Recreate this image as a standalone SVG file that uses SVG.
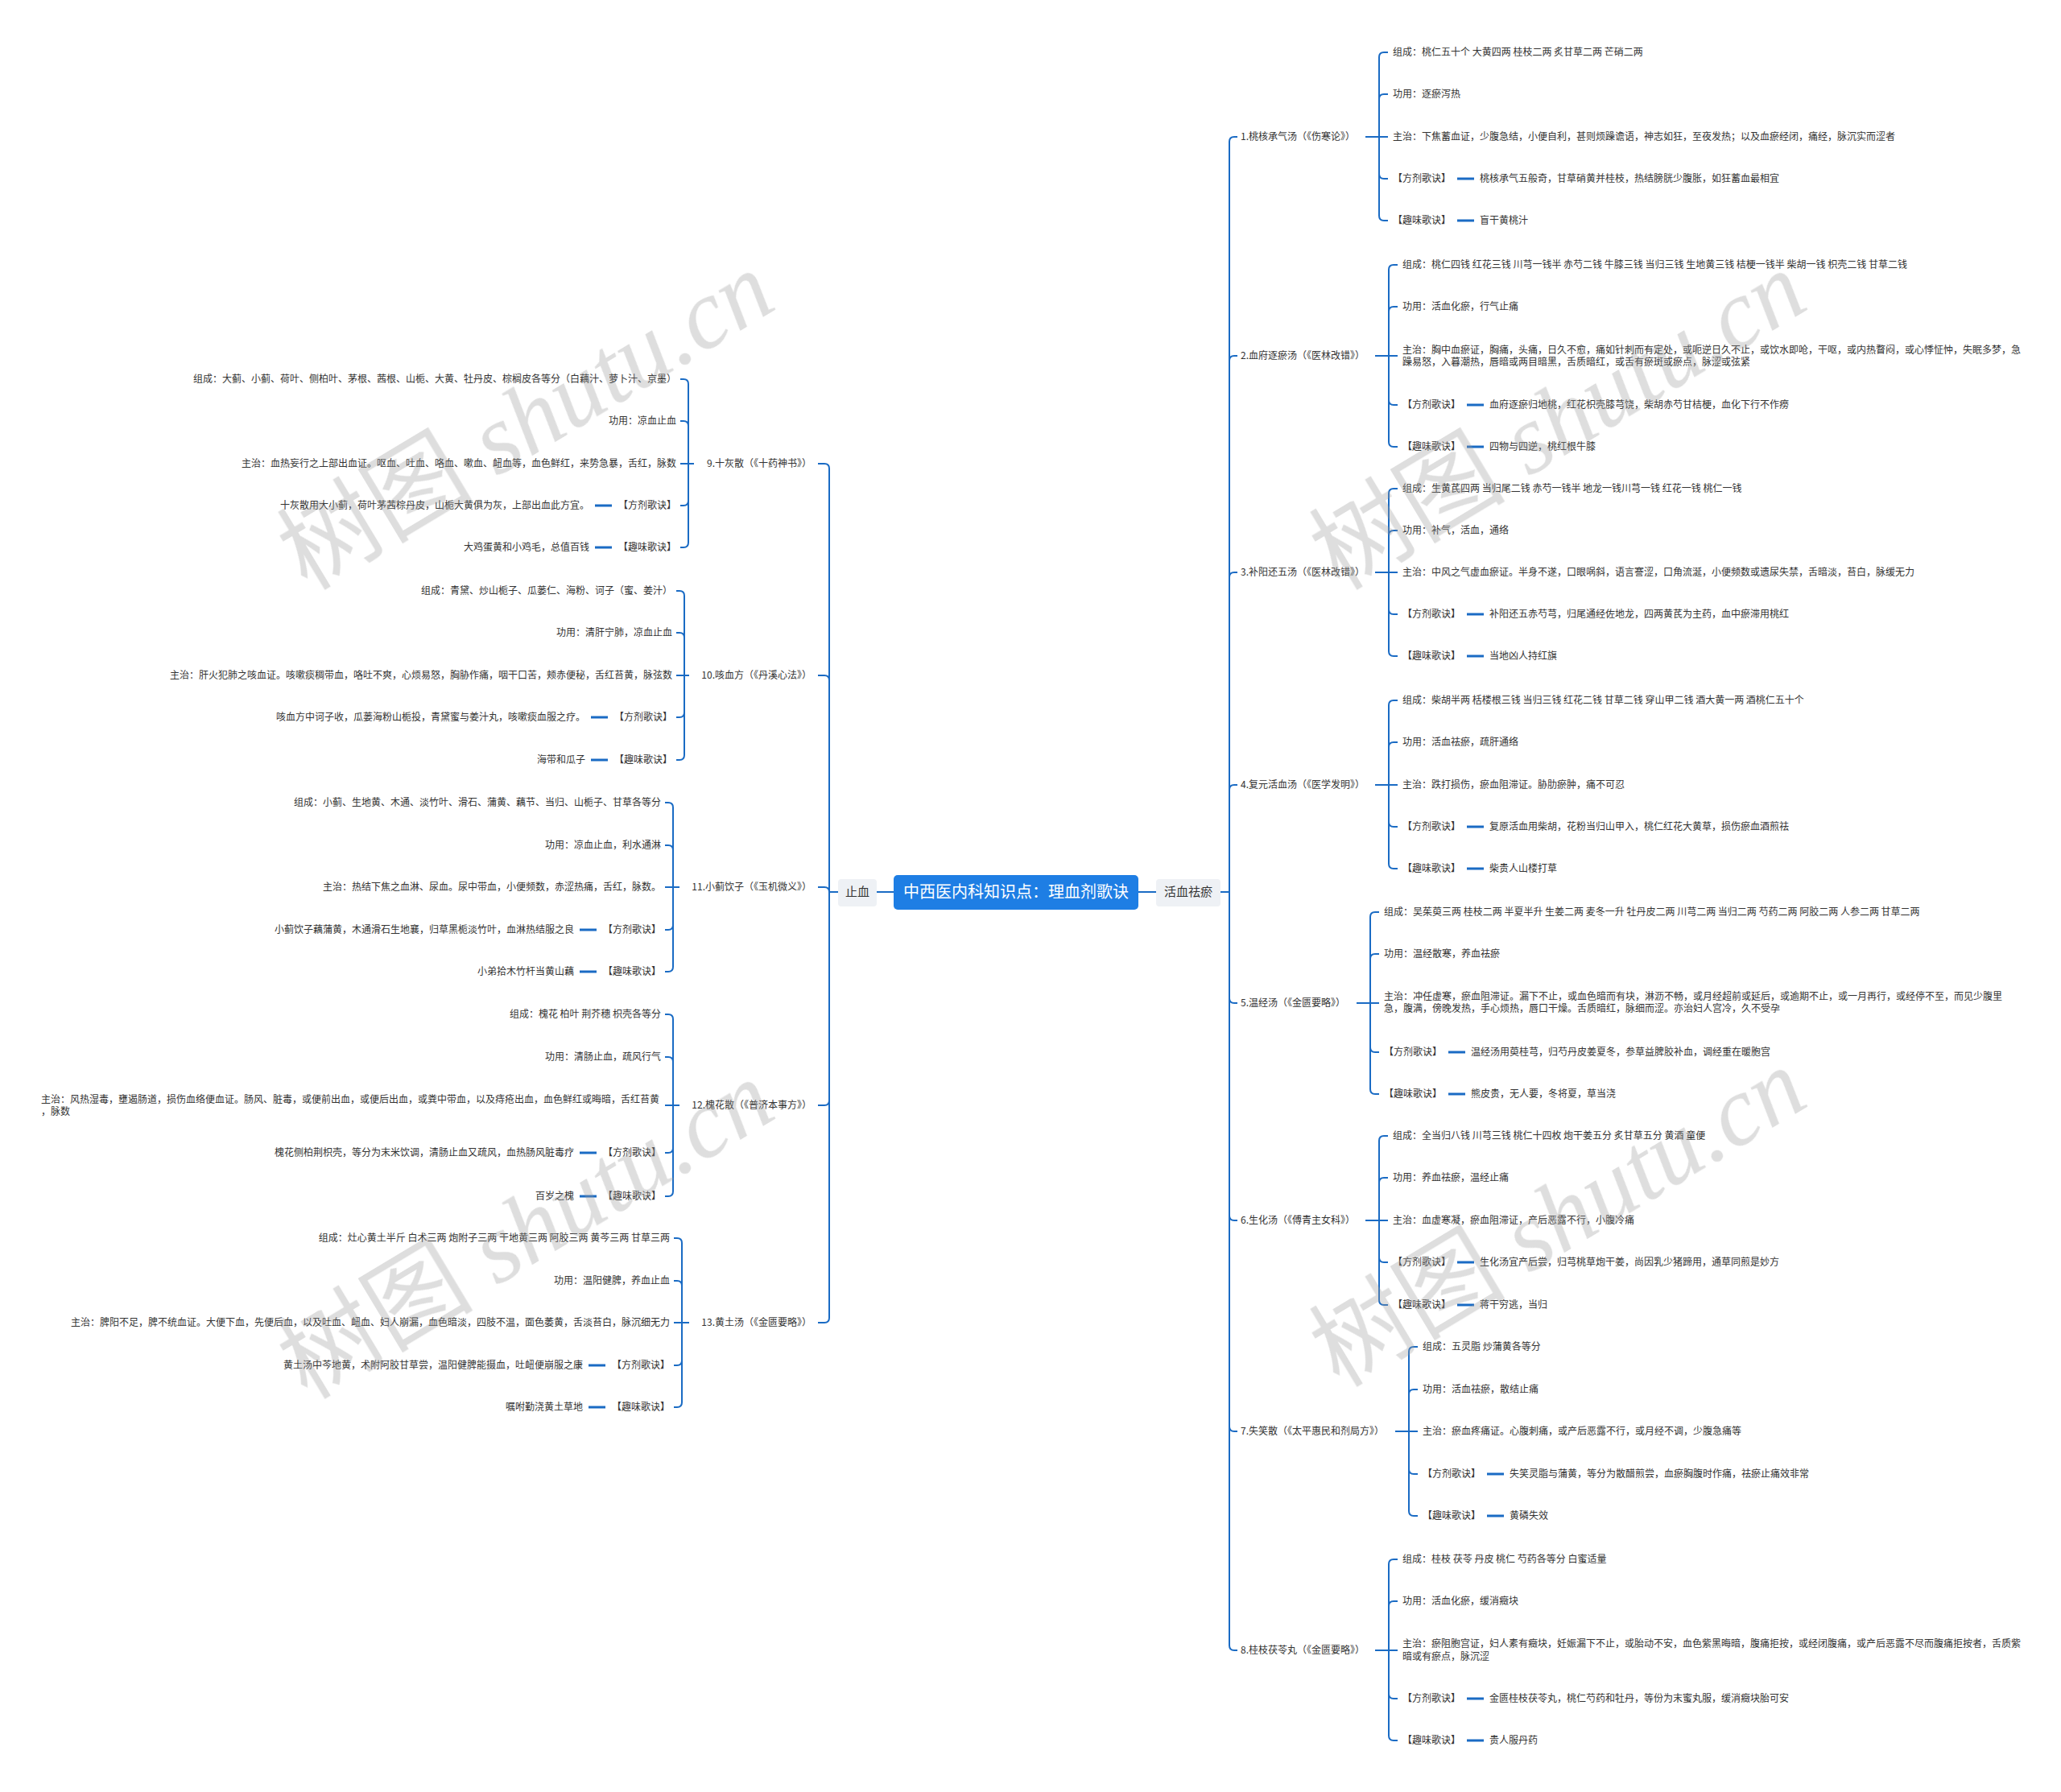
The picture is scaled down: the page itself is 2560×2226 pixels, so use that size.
<svg xmlns="http://www.w3.org/2000/svg" width="2560" height="2226" viewBox="0 0 2560 2226">
<style>
.t{font-family:"Noto Sans CJK SC","Microsoft YaHei",sans-serif;font-size:12px;fill:#333}
.e{text-anchor:end}
.c{stroke:#1a6bc4;stroke-width:2;fill:none}
.d{stroke:#1a6bc4;stroke-width:3}
.b{fill:#eef1f5}
.wm{font-family:"Liberation Serif","Noto Sans CJK SC",serif;font-size:122px;fill:#9a9a9a;opacity:.33;text-anchor:middle}
</style>
<rect width="2560" height="2226" fill="#fff"/>

<g id="connectors">
<path class="c" d="M1089,1108H1110M1414,1108H1436"/>
<!-- right trunk -->
<path class="c" d="M1516,1108H1527M1527,1108V176Q1527,170 1533,170H1537M1527,1108V448Q1527,442 1533,442H1537M1527,1108V717Q1527,711 1533,711H1537M1527,1108V981Q1527,975 1533,975H1537M1527,1108V1240Q1527,1246 1533,1246H1537M1527,1108V1510Q1527,1516 1533,1516H1537M1527,1108V1772Q1527,1778 1533,1778H1537M1527,1108V2044Q1527,2050 1533,2050H1537"/>
<!-- left trunk -->
<path class="c" d="M1041,1108H1030M1030,1108V582Q1030,576 1024,576H1016M1030,1108V845Q1030,839 1024,839H1016M1030,1108V1108Q1030,1102 1024,1102H1016M1030,1108V1367Q1030,1373 1024,1373H1016M1030,1108V1637Q1030,1643 1024,1643H1016"/>
<!-- S1 -->
<path class="c" d="M1696,170H1713M1713,170V71Q1713,65 1719,65H1724M1713,170V123Q1713,117 1719,117H1724M1713,170H1724M1713,170V216Q1713,222 1719,222H1724M1713,170V268Q1713,274 1719,274H1724"/>
<path class="d" d="M1810,222H1831M1810,274H1831"/>
<!-- S2 -->
<path class="c" d="M1708,442H1725M1725,442V335Q1725,329 1731,329H1736M1725,442V387Q1725,381 1731,381H1736M1725,442H1736M1725,442V497Q1725,503 1731,503H1736M1725,442V549Q1725,555 1731,555H1736"/>
<path class="d" d="M1822,503H1843M1822,555H1843"/>
<!-- S3 -->
<path class="c" d="M1708,711H1725M1725,711V613Q1725,607 1731,607H1736M1725,711V665Q1725,659 1731,659H1736M1725,711H1736M1725,711V757Q1725,763 1731,763H1736M1725,711V809Q1725,815 1731,815H1736"/>
<path class="d" d="M1822,763H1843M1822,815H1843"/>
<!-- S4 -->
<path class="c" d="M1708,975H1725M1725,975V876Q1725,870 1731,870H1736M1725,975V928Q1725,922 1731,922H1736M1725,975H1736M1725,975V1021Q1725,1027 1731,1027H1736M1725,975V1073Q1725,1079 1731,1079H1736"/>
<path class="d" d="M1822,1027H1843M1822,1079H1843"/>
<!-- S5 -->
<path class="c" d="M1685,1246H1702M1702,1246V1139Q1702,1133 1708,1133H1713M1702,1246V1191Q1702,1185 1708,1185H1713M1702,1246H1713M1702,1246V1301Q1702,1307 1708,1307H1713M1702,1246V1353Q1702,1359 1708,1359H1713"/>
<path class="d" d="M1799,1307H1820M1799,1359H1820"/>
<!-- S6 -->
<path class="c" d="M1696,1516H1713M1713,1516V1417Q1713,1411 1719,1411H1724M1713,1516V1469Q1713,1463 1719,1463H1724M1713,1516H1724M1713,1516V1562Q1713,1568 1719,1568H1724M1713,1516V1615Q1713,1621 1719,1621H1724"/>
<path class="d" d="M1810,1568H1831M1810,1621H1831"/>
<!-- S7 -->
<path class="c" d="M1733,1778H1750M1750,1778V1679Q1750,1673 1756,1673H1761M1750,1778V1732Q1750,1726 1756,1726H1761M1750,1778H1761M1750,1778V1825Q1750,1831 1756,1831H1761M1750,1778V1877Q1750,1883 1756,1883H1761"/>
<path class="d" d="M1847,1831H1868M1847,1883H1868"/>
<!-- S8 -->
<path class="c" d="M1708,2050H1725M1725,2050V1943Q1725,1937 1731,1937H1736M1725,2050V1995Q1725,1989 1731,1989H1736M1725,2050H1736M1725,2050V2104Q1725,2110 1731,2110H1736M1725,2050V2156Q1725,2162 1731,2162H1736"/>
<path class="d" d="M1822,2110H1843M1822,2162H1843"/>
<!-- S9 -->
<path class="c" d="M862,576H855M855,576V477Q855,471 849,471H845M855,576V529Q855,523 849,523H845M855,576H845M855,576V622Q855,628 849,628H845M855,576V674Q855,680 849,680H845"/>
<path class="d" d="M739,628H760M739,680H760"/>
<!-- S10 -->
<path class="c" d="M856,839H850M850,839V740Q850,734 844,734H840M850,839V792Q850,786 844,786H840M850,839H840M850,839V885Q850,891 844,891H840M850,839V938Q850,944 844,944H840"/>
<path class="d" d="M734,891H755M734,944H755"/>
<!-- S11 -->
<path class="c" d="M844,1102H836M836,1102V1003Q836,997 830,997H826M836,1102V1056Q836,1050 830,1050H826M836,1102H826M836,1102V1149Q836,1155 830,1155H826M836,1102V1201Q836,1207 830,1207H826"/>
<path class="d" d="M720,1155H741M720,1207H741"/>
<!-- S12 -->
<path class="c" d="M844,1373H836M836,1373V1266Q836,1260 830,1260H826M836,1373V1319Q836,1313 830,1313H826M836,1373H826M836,1373V1426Q836,1432 830,1432H826M836,1373V1480Q836,1486 830,1486H826"/>
<path class="d" d="M720,1432H741M720,1486H741"/>
<!-- S13 -->
<path class="c" d="M856,1643H847M847,1643V1544Q847,1538 841,1538H837M847,1643V1597Q847,1591 841,1591H837M847,1643H837M847,1643V1690Q847,1696 841,1696H837M847,1643V1742Q847,1748 841,1748H837"/>
<path class="d" d="M731,1696H752M731,1748H752"/>
</g>

<g id="root">
<rect x="1110" y="1087" width="304" height="43" rx="5" fill="#1e7ee4"/>
<text x="1262" y="1115" text-anchor="middle" style="font-family:'Noto Sans CJK SC','Microsoft YaHei',sans-serif;font-size:20px;fill:#fff">中西医内科知识点：理血剂歌诀</text>
</g>
<g id="zhixue">
<rect class="b" x="1041" y="1092" width="48" height="34" rx="4"/>
<text class="t" x="1065" y="1113" text-anchor="middle" style="font-size:15px">止血</text>
</g>
<g id="huoxue">
<rect class="b" x="1436" y="1092" width="80" height="34" rx="4"/>
<text class="t" x="1476" y="1113" text-anchor="middle" style="font-size:15px">活血祛瘀</text>
</g>

<!-- RIGHT -->
<g id="s1">
<g id="s1-label"><text class="t" x="1541" y="174">1.桃核承气汤（《伤寒论》）</text></g>
<g id="s1-zc"><text class="t" x="1730" y="69">组成：桃仁五十个 大黄四两 桂枝二两 炙甘草二两 芒硝二两</text></g>
<g id="s1-gy"><text class="t" x="1730" y="121">功用：逐瘀泻热</text></g>
<g id="s1-zz"><text class="t" x="1730" y="174">主治：下焦蓄血证，少腹急结，小便自利，甚则烦躁谵语，神志如狂，至夜发热；以及血瘀经闭，痛经，脉沉实而涩者</text></g>
<g id="s1-fj"><text class="t" x="1730" y="226">【方剂歌诀】</text></g>
<g id="s1-fjv"><text class="t" x="1838" y="226">桃核承气五般奇，甘草硝黄并桂枝，热结膀胱少腹胀，如狂蓄血最相宜</text></g>
<g id="s1-qw"><text class="t" x="1730" y="278">【趣味歌诀】</text></g>
<g id="s1-qwv"><text class="t" x="1838" y="278">盲干黄桃汁</text></g>
</g>

<g id="s2">
<g id="s2-label"><text class="t" x="1541" y="446">2.血府逐瘀汤（《医林改错》）</text></g>
<g id="s2-zc"><text class="t" x="1742" y="333">组成：桃仁四钱 红花三钱 川芎一钱半 赤芍二钱 牛膝三钱 当归三钱 生地黄三钱 桔梗一钱半 柴胡一钱 枳壳二钱 甘草二钱</text></g>
<g id="s2-gy"><text class="t" x="1742" y="385">功用：活血化瘀，行气止痛</text></g>
<g id="s2-zz"><text class="t" x="1742" y="439">主治：胸中血瘀证，胸痛，头痛，日久不愈，痛如针刺而有定处，或呃逆日久不止，或饮水即呛，干呕，或内热瞀闷，或心悸怔忡，失眠多梦，急<tspan x="1742" y="454">躁易怒，入暮潮热，唇暗或两目暗黑，舌质暗红，或舌有瘀斑或瘀点，脉涩或弦紧</tspan></text></g>
<g id="s2-fj"><text class="t" x="1742" y="507">【方剂歌诀】</text></g>
<g id="s2-fjv"><text class="t" x="1850" y="507">血府逐瘀归地桃，红花枳壳膝芎饶，柴胡赤芍甘桔梗，血化下行不作痨</text></g>
<g id="s2-qw"><text class="t" x="1742" y="559">【趣味歌诀】</text></g>
<g id="s2-qwv"><text class="t" x="1850" y="559">四物与四逆，桃红根牛膝</text></g>
</g>

<g id="s3">
<g id="s3-label"><text class="t" x="1541" y="715">3.补阳还五汤（《医林改错》）</text></g>
<g id="s3-zc"><text class="t" x="1742" y="611">组成：生黄芪四两 当归尾二钱 赤芍一钱半 地龙一钱川芎一钱 红花一钱 桃仁一钱</text></g>
<g id="s3-gy"><text class="t" x="1742" y="663">功用：补气，活血，通络</text></g>
<g id="s3-zz"><text class="t" x="1742" y="715">主治：中风之气虚血瘀证。半身不遂，口眼㖞斜，语言謇涩，口角流涎，小便频数或遗尿失禁，舌暗淡，苔白，脉缓无力</text></g>
<g id="s3-fj"><text class="t" x="1742" y="767">【方剂歌诀】</text></g>
<g id="s3-fjv"><text class="t" x="1850" y="767">补阳还五赤芍芎，归尾通经佐地龙，四两黄芪为主药，血中瘀滞用桃红</text></g>
<g id="s3-qw"><text class="t" x="1742" y="819">【趣味歌诀】</text></g>
<g id="s3-qwv"><text class="t" x="1850" y="819">当地凶人持红旗</text></g>
</g>

<g id="s4">
<g id="s4-label"><text class="t" x="1541" y="979">4.复元活血汤（《医学发明》）</text></g>
<g id="s4-zc"><text class="t" x="1742" y="874">组成：柴胡半两 栝楼根三钱 当归三钱 红花二钱 甘草二钱 穿山甲二钱 酒大黄一两 酒桃仁五十个</text></g>
<g id="s4-gy"><text class="t" x="1742" y="926">功用：活血祛瘀，疏肝通络</text></g>
<g id="s4-zz"><text class="t" x="1742" y="979">主治：跌打损伤，瘀血阻滞证。胁肋瘀肿，痛不可忍</text></g>
<g id="s4-fj"><text class="t" x="1742" y="1031">【方剂歌诀】</text></g>
<g id="s4-fjv"><text class="t" x="1850" y="1031">复原活血用柴胡，花粉当归山甲入，桃仁红花大黄草，损伤瘀血酒煎祛</text></g>
<g id="s4-qw"><text class="t" x="1742" y="1083">【趣味歌诀】</text></g>
<g id="s4-qwv"><text class="t" x="1850" y="1083">柴贵人山楼打草</text></g>
</g>

<g id="s5">
<g id="s5-label"><text class="t" x="1541" y="1250">5.温经汤（《金匮要略》）</text></g>
<g id="s5-zc"><text class="t" x="1719" y="1137">组成：吴茱萸三两 桂枝二两 半夏半升 生姜二两 麦冬一升 牡丹皮二两 川芎二两 当归二两 芍药二两 阿胶二两 人参二两 甘草二两</text></g>
<g id="s5-gy"><text class="t" x="1719" y="1189">功用：温经散寒，养血祛瘀</text></g>
<g id="s5-zz"><text class="t" x="1719" y="1242">主治：冲任虚寒，瘀血阻滞证。漏下不止，或血色暗而有块，淋沥不畅，或月经超前或延后，或逾期不止，或一月再行，或经停不至，而见少腹里<tspan x="1719" y="1257">急，腹满，傍晚发热，手心烦热，唇口干燥。舌质暗红，脉细而涩。亦治妇人宫冷，久不受孕</tspan></text></g>
<g id="s5-fj"><text class="t" x="1719" y="1311">【方剂歌诀】</text></g>
<g id="s5-fjv"><text class="t" x="1827" y="1311">温经汤用萸桂芎，归芍丹皮姜夏冬，参草益脾胶补血，调经重在暖胞宫</text></g>
<g id="s5-qw"><text class="t" x="1719" y="1363">【趣味歌诀】</text></g>
<g id="s5-qwv"><text class="t" x="1827" y="1363">熊皮贵，无人要，冬将夏，草当浇</text></g>
</g>

<g id="s6">
<g id="s6-label"><text class="t" x="1541" y="1520">6.生化汤（《傅青主女科》）</text></g>
<g id="s6-zc"><text class="t" x="1730" y="1415">组成：全当归八钱 川芎三钱 桃仁十四枚 炮干姜五分 炙甘草五分 黄酒 童便</text></g>
<g id="s6-gy"><text class="t" x="1730" y="1467">功用：养血祛瘀，温经止痛</text></g>
<g id="s6-zz"><text class="t" x="1730" y="1520">主治：血虚寒凝，瘀血阻滞证，产后恶露不行，小腹冷痛</text></g>
<g id="s6-fj"><text class="t" x="1730" y="1572">【方剂歌诀】</text></g>
<g id="s6-fjv"><text class="t" x="1838" y="1572">生化汤宜产后尝，归芎桃草炮干姜，尚因乳少猪蹄用，通草同煎是妙方</text></g>
<g id="s6-qw"><text class="t" x="1730" y="1625">【趣味歌诀】</text></g>
<g id="s6-qwv"><text class="t" x="1838" y="1625">蒋干穷逃，当归</text></g>
</g>

<g id="s7">
<g id="s7-label"><text class="t" x="1541" y="1782">7.失笑散（《太平惠民和剂局方》）</text></g>
<g id="s7-zc"><text class="t" x="1767" y="1677">组成：五灵脂 炒蒲黄各等分</text></g>
<g id="s7-gy"><text class="t" x="1767" y="1730">功用：活血祛瘀，散结止痛</text></g>
<g id="s7-zz"><text class="t" x="1767" y="1782">主治：瘀血疼痛证。心腹刺痛，或产后恶露不行，或月经不调，少腹急痛等</text></g>
<g id="s7-fj"><text class="t" x="1767" y="1835">【方剂歌诀】</text></g>
<g id="s7-fjv"><text class="t" x="1875" y="1835">失笑灵脂与蒲黄，等分为散醋煎尝，血瘀胸腹时作痛，祛瘀止痛效非常</text></g>
<g id="s7-qw"><text class="t" x="1767" y="1887">【趣味歌诀】</text></g>
<g id="s7-qwv"><text class="t" x="1875" y="1887">黄磷失效</text></g>
</g>

<g id="s8">
<g id="s8-label"><text class="t" x="1541" y="2054">8.桂枝茯苓丸（《金匮要略》）</text></g>
<g id="s8-zc"><text class="t" x="1742" y="1941">组成：桂枝 茯苓 丹皮 桃仁 芍药各等分 白蜜适量</text></g>
<g id="s8-gy"><text class="t" x="1742" y="1993">功用：活血化瘀，缓消癥块</text></g>
<g id="s8-zz"><text class="t" x="1742" y="2046">主治：瘀阻胞宫证，妇人素有癥块，妊娠漏下不止，或胎动不安，血色紫黑晦暗，腹痛拒按，或经闭腹痛，或产后恶露不尽而腹痛拒按者，舌质紫<tspan x="1742" y="2062">暗或有瘀点，脉沉涩</tspan></text></g>
<g id="s8-fj"><text class="t" x="1742" y="2114">【方剂歌诀】</text></g>
<g id="s8-fjv"><text class="t" x="1850" y="2114">金匮桂枝茯苓丸，桃仁芍药和牡丹，等份为末蜜丸服，缓消癥块胎可安</text></g>
<g id="s8-qw"><text class="t" x="1742" y="2166">【趣味歌诀】</text></g>
<g id="s8-qwv"><text class="t" x="1850" y="2166">贵人服丹药</text></g>
</g>

<!-- LEFT -->
<g id="s9">
<g id="s9-label"><text class="t e" x="1008" y="580">9.十灰散（《十药神书》）</text></g>
<g id="s9-zc"><text class="t e" x="840" y="475">组成：大蓟、小蓟、荷叶、侧柏叶、茅根、茜根、山栀、大黄、牡丹皮、棕榈皮各等分（白藕汁、萝卜汁、京墨）</text></g>
<g id="s9-gy"><text class="t e" x="840" y="527">功用：凉血止血</text></g>
<g id="s9-zz"><text class="t e" x="840" y="580">主治：血热妄行之上部出血证。呕血、吐血、咯血、嗽血、衄血等，血色鲜红，来势急暴，舌红，脉数</text></g>
<g id="s9-fj"><text class="t e" x="840" y="632">【方剂歌诀】</text></g>
<g id="s9-fjv"><text class="t e" x="732" y="632">十灰散用大小蓟，荷叶茅茜棕丹皮，山栀大黄俱为灰，上部出血此方宜。</text></g>
<g id="s9-qw"><text class="t e" x="840" y="684">【趣味歌诀】</text></g>
<g id="s9-qwv"><text class="t e" x="732" y="684">大鸡蛋黄和小鸡毛，总值百钱</text></g>
</g>

<g id="s10">
<g id="s10-label"><text class="t e" x="1008" y="843">10.咳血方（《丹溪心法》）</text></g>
<g id="s10-zc"><text class="t e" x="835" y="738">组成：青黛、炒山栀子、瓜蒌仁、海粉、诃子（蜜、姜汁）</text></g>
<g id="s10-gy"><text class="t e" x="835" y="790">功用：清肝宁肺，凉血止血</text></g>
<g id="s10-zz"><text class="t e" x="835" y="843">主治：肝火犯肺之咳血证。咳嗽痰稠带血，咯吐不爽，心烦易怒，胸胁作痛，咽干口苦，颊赤便秘，舌红苔黄，脉弦数</text></g>
<g id="s10-fj"><text class="t e" x="835" y="895">【方剂歌诀】</text></g>
<g id="s10-fjv"><text class="t e" x="727" y="895">咳血方中诃子收，瓜蒌海粉山栀投，青黛蜜与姜汁丸，咳嗽痰血服之疗。</text></g>
<g id="s10-qw"><text class="t e" x="835" y="948">【趣味歌诀】</text></g>
<g id="s10-qwv"><text class="t e" x="727" y="948">海带和瓜子</text></g>
</g>

<g id="s11">
<g id="s11-label"><text class="t e" x="1008" y="1106">11.小蓟饮子（《玉机微义》）</text></g>
<g id="s11-zc"><text class="t e" x="821" y="1001">组成：小蓟、生地黄、木通、淡竹叶、滑石、蒲黄、藕节、当归、山栀子、甘草各等分</text></g>
<g id="s11-gy"><text class="t e" x="821" y="1054">功用：凉血止血，利水通淋</text></g>
<g id="s11-zz"><text class="t e" x="821" y="1106">主治：热结下焦之血淋、尿血。尿中带血，小便频数，赤涩热痛，舌红，脉数。</text></g>
<g id="s11-fj"><text class="t e" x="821" y="1159">【方剂歌诀】</text></g>
<g id="s11-fjv"><text class="t e" x="713" y="1159">小蓟饮子藕蒲黄，木通滑石生地襄，归草黑栀淡竹叶，血淋热结服之良</text></g>
<g id="s11-qw"><text class="t e" x="821" y="1211">【趣味歌诀】</text></g>
<g id="s11-qwv"><text class="t e" x="713" y="1211">小弟拾木竹杆当黄山藕</text></g>
</g>

<g id="s12">
<g id="s12-label"><text class="t e" x="1008" y="1377">12.槐花散（《普济本事方》）</text></g>
<g id="s12-zc"><text class="t e" x="821" y="1264">组成：槐花 柏叶 荆芥穗 枳壳各等分</text></g>
<g id="s12-gy"><text class="t e" x="821" y="1317">功用：清肠止血，疏风行气</text></g>
<g id="s12-zz"><text class="t" x="51" y="1370">主治：风热湿毒，壅遏肠道，损伤血络便血证。肠风、脏毒，或便前出血，或便后出血，或粪中带血，以及痔疮出血，血色鲜红或晦暗，舌红苔黄<tspan x="51" y="1385">，脉数</tspan></text></g>
<g id="s12-fj"><text class="t e" x="821" y="1436">【方剂歌诀】</text></g>
<g id="s12-fjv"><text class="t e" x="713" y="1436">槐花侧柏荆枳壳，等分为末米饮调，清肠止血又疏风，血热肠风脏毒疗</text></g>
<g id="s12-qw"><text class="t e" x="821" y="1490">【趣味歌诀】</text></g>
<g id="s12-qwv"><text class="t e" x="713" y="1490">百岁之槐</text></g>
</g>

<g id="s13">
<g id="s13-label"><text class="t e" x="1008" y="1647">13.黄土汤（《金匮要略》）</text></g>
<g id="s13-zc"><text class="t e" x="832" y="1542">组成：灶心黄土半斤 白术三两 炮附子三两 干地黄三两 阿胶三两 黄芩三两 甘草三两</text></g>
<g id="s13-gy"><text class="t e" x="832" y="1595">功用：温阳健脾，养血止血</text></g>
<g id="s13-zz"><text class="t e" x="832" y="1647">主治：脾阳不足，脾不统血证。大便下血，先便后血，以及吐血、衄血、妇人崩漏，血色暗淡，四肢不温，面色萎黄，舌淡苔白，脉沉细无力</text></g>
<g id="s13-fj"><text class="t e" x="832" y="1700">【方剂歌诀】</text></g>
<g id="s13-fjv"><text class="t e" x="724" y="1700">黄土汤中芩地黄，术附阿胶甘草尝，温阳健脾能摄血，吐衄便崩服之康</text></g>
<g id="s13-qw"><text class="t e" x="832" y="1752">【趣味歌诀】</text></g>
<g id="s13-qwv"><text class="t e" x="724" y="1752">嘱咐勤浇黄土草地</text></g>
</g>

<g id="watermarks" class="wm">
<text transform="translate(653,522) rotate(-31)" y="42">树图 <tspan font-style="italic">shutu.cn</tspan></text>
<text transform="translate(1935,522) rotate(-31)" y="42">树图 <tspan font-style="italic">shutu.cn</tspan></text>
<text transform="translate(653,1527) rotate(-31)" y="42">树图 <tspan font-style="italic">shutu.cn</tspan></text>
<text transform="translate(1935,1512) rotate(-31)" y="42">树图 <tspan font-style="italic">shutu.cn</tspan></text>
</g>
</svg>
